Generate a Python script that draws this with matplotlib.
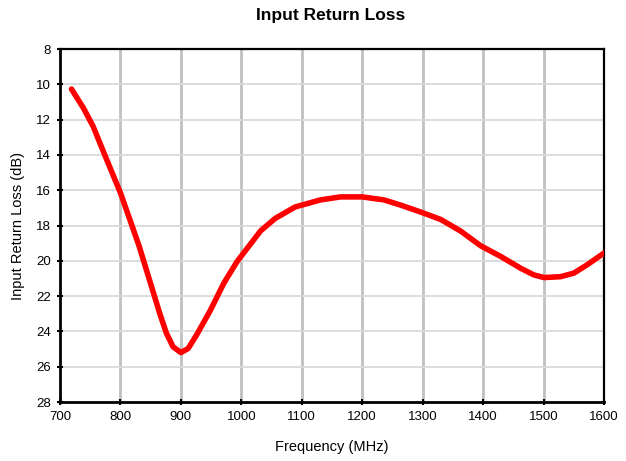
import matplotlib
matplotlib.use('Agg')
import matplotlib.pyplot as plt

plt.rcParams['font.family'] = ['Liberation Sans', 'DejaVu Sans']

# frequency sweep (MHz) and measured input return loss (dB)
freq = [719, 739, 755, 772, 788, 800, 819, 831, 848, 865, 876, 887, 900,
        912, 926, 949, 971, 993, 1010, 1032, 1056, 1089, 1131, 1164, 1200,
        1236, 1264, 1297, 1330, 1363, 1396, 1429, 1462, 1484, 1501, 1528,
        1550, 1572, 1600]
rl = [10.27, 11.36, 12.4, 13.83, 15.16, 16.15, 18.0, 19.18, 21.08, 22.98, 24.1, 24.87, 25.2,
      24.97, 24.2, 22.79, 21.27, 20.04, 19.28, 18.3, 17.6, 16.95, 16.55, 16.38, 16.38,
      16.55, 16.85, 17.24, 17.66, 18.32, 19.15, 19.75, 20.42, 20.8, 20.95, 20.9,
      20.7, 20.23, 19.56]

x_ticks = list(range(700, 1601, 100))
y_ticks = list(range(8, 29, 2))

fig = plt.figure(figsize=(6.26, 4.61), dpi=100)
ax = fig.add_axes([60 / 626, 1 - 402 / 461, 544 / 626, 353 / 461])

ax.plot(freq, rl, color='#ff0000', linewidth=4, solid_capstyle='round', solid_joinstyle='round', zorder=3)

ax.set_xlim(700, 1600)
ax.set_ylim(28, 8)
ax.set_xticks(x_ticks)
ax.set_yticks(y_ticks)

for xv in x_ticks[1:-1]:
    ax.axvline(xv, color='#c0c0c0', linewidth=2, zorder=1)
for yv in y_ticks[1:-1]:
    ax.axhline(yv, color='#d9d9d9', linewidth=1.3, zorder=1)

for side in ['left', 'bottom']:
    ax.spines[side].set_linewidth(2)
for side in ['top', 'right']:
    ax.spines[side].set_linewidth(1.6)

ax.tick_params(direction='inout', length=5, width=1.5, labelsize=9.5, pad=4)

ax.set_xlabel('Frequency (MHz)', fontsize=10.5, labelpad=12)
ax.set_ylabel('Input Return Loss (dB)', fontsize=10.5, labelpad=8)
fig.suptitle('Input Return Loss', fontsize=12.5, fontweight='bold', x=331 / 626, y=1 - 8 / 461, va='top')

fig.savefig('out.png', dpi=100)
